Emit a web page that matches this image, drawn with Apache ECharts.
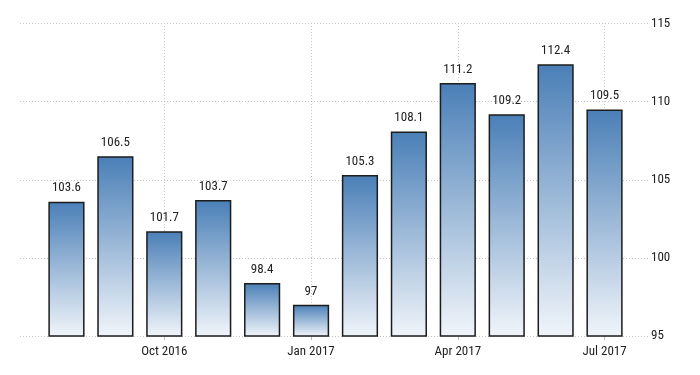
<!DOCTYPE html>
<html>
<head>
<meta charset="utf-8">
<script src="https://cdn.jsdelivr.net/npm/echarts@6/dist/echarts.min.js"></script>
<style>
html,body{margin:0;padding:0;background:#fff;}
#c{width:700px;height:375px;}
</style>
</head>
<body>
<div id="c"></div>
<script>
var categories = ['Aug 2016','Sep 2016','Oct 2016','Nov 2016','Dec 2016','Jan 2017','Feb 2017','Mar 2017','Apr 2017','May 2017','Jun 2017','Jul 2017'];
var values = [103.6, 106.5, 101.7, 103.7, 98.4, 97, 105.3, 108.1, 111.2, 109.2, 112.4, 109.5];
var shownLabels = ['Oct 2016','Jan 2017','Apr 2017','Jul 2017'];
var yTicks = [95, 100, 105, 110, 115];

var FONT = '"Roboto Condensed","Liberation Sans",Arial,sans-serif';
var chart = echarts.init(document.getElementById('c'), null, {renderer:'canvas'});
var showIdx = function (i, v) { return shownLabels.indexOf(categories[i]) >= 0; };

var option = {
  animation: false,
  backgroundColor: '#fff',
  grid: [
    {left: 42, right: 71, top: 23.6, bottom: 39},
    {left: 20, right: 51, top: 23.6, bottom: 39}
  ],
  xAxis: [
    {
      type: 'category', gridIndex: 0, data: categories,
      axisLine: {show: false},
      axisTick: {show: true, alignWithLabel: true, interval: showIdx, length: 4, lineStyle: {color: '#bbbbbb'}},
      axisLabel: {interval: showIdx, margin: 9, color: '#222', fontFamily: FONT, fontSize: 13},
      splitLine: {show: false}
    },
    {
      type: 'value', gridIndex: 1, show: false, min: 0, max: 1
    }
  ],
  yAxis: [
    {
      type: 'value', gridIndex: 0, position: 'right', min: yTicks[0], max: yTicks[yTicks.length-1], interval: 5,
      axisLine: {show: false}, axisTick: {show: false},
      axisLabel: {margin: 22, color: '#222', fontFamily: FONT, fontSize: 13, align: 'left'},
      splitLine: {show: false}
    },
    {
      type: 'value', gridIndex: 1, min: yTicks[0], max: yTicks[yTicks.length-1], interval: 5,
      axisLine: {show: false}, axisTick: {show: false}, axisLabel: {show: false},
      splitLine: {show: true, lineStyle: {color: '#c4c4c4', type: [1, 2], width: 1}}
    }
  ],
  series: [
    {
      type: 'bar', xAxisIndex: 0, yAxisIndex: 0, data: values,
      barCategoryGap: '26%',
      itemStyle: {
        color: new echarts.graphic.LinearGradient(0, 0, 0, 1, [
          {offset: 0, color: '#4a7fb7'},
          {offset: 1, color: '#f1f5fa'}
        ]),
        borderColor: '#1c1c1c', borderWidth: 1.5
      },
      label: {show: true, position: 'top', distance: 7, color: '#222', fontFamily: FONT, fontSize: 13},
      markLine: {
        silent: true, symbol: 'none', z: 1,
        label: {show: false},
        lineStyle: {color: '#c4c4c4', type: [1, 2], width: 1},
        data: shownLabels.map(function (c) { return {xAxis: c}; })
      },
      z: 3
    }
  ]
};
chart.setOption(option);
</script>
</body>
</html>
